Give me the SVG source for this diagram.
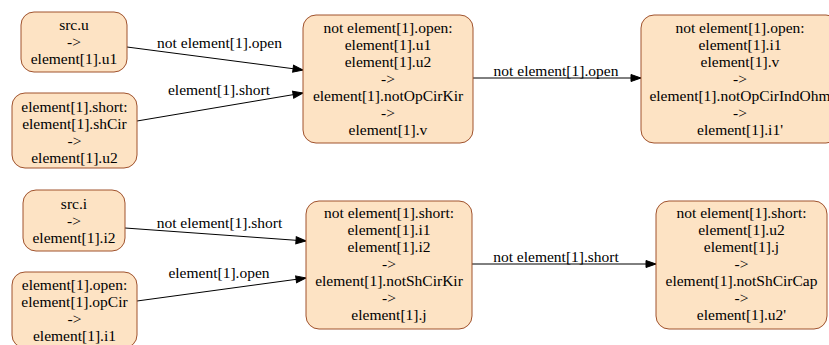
<svg xmlns="http://www.w3.org/2000/svg" width="829" height="345" viewBox="0 0 829 345">
<style>
.n rect{fill:#fde3c4;stroke:#a0522d;stroke-width:1}
text{font-family:"Liberation Serif","Times New Roman",serif;font-size:15.5px;fill:#000;text-anchor:middle}
.e path{fill:none;stroke:#000;stroke-width:1}
</style>
<defs>
<marker id="ah" markerUnits="userSpaceOnUse" markerWidth="11" markerHeight="8" refX="10" refY="3.5" orient="auto" overflow="visible">
<path d="M0,0 L10,3.5 L0,7 Z" fill="#000" stroke="#000"/>
</marker>
</defs>
<rect width="829" height="345" fill="#fff"/>
<g id="connectors" class="e">
<path d="M127,47 L303,70" marker-end="url(#ah)"/>
<text x="219.5" y="48">not element[1].open</text>
<path d="M137,121 L303,93" marker-end="url(#ah)"/>
<text x="219" y="94.5">element[1].short</text>
<path d="M473,78 L641,78" marker-end="url(#ah)"/>
<text x="556" y="75.5">not element[1].open</text>
<path d="M125,228 L306,241" marker-end="url(#ah)"/>
<text x="219.5" y="228">not element[1].short</text>
<path d="M137,301 L306,278" marker-end="url(#ah)"/>
<text x="219" y="278">element[1].open</text>
<path d="M472,264 L656,264" marker-end="url(#ah)"/>
<text x="556" y="261.5">not element[1].short</text>
</g>
<g id="nA" class="n">
<rect x="21" y="12" width="106" height="60" rx="13"/>
<text x="74" y="30">src.u</text>
<text x="74" y="47">-&gt;</text>
<text x="74" y="64">element[1].u1</text>
</g>
<g id="nB" class="n">
<rect x="12" y="93" width="125" height="75" rx="13"/>
<text x="74.5" y="112">element[1].short:</text>
<text x="74.5" y="129">element[1].shCir</text>
<text x="74.5" y="146">-&gt;</text>
<text x="74.5" y="163">element[1].u2</text>
</g>
<g id="nC" class="n">
<rect x="303" y="15" width="170" height="128" rx="13"/>
<text x="388" y="32.5">not element[1].open:</text>
<text x="388" y="49.5">element[1].u1</text>
<text x="388" y="66.5">element[1].u2</text>
<text x="388" y="83.5">-&gt;</text>
<text x="388" y="100.5">element[1].notOpCirKir</text>
<text x="388" y="117.5">-&gt;</text>
<text x="388" y="134.5">element[1].v</text>
</g>
<g id="nD" class="n">
<rect x="641" y="15" width="198" height="128" rx="13"/>
<text x="740" y="32.5">not element[1].open:</text>
<text x="740" y="49.5">element[1].i1</text>
<text x="740" y="66.5">element[1].v</text>
<text x="740" y="83.5">-&gt;</text>
<text x="740" y="100.5">element[1].notOpCirIndOhm</text>
<text x="740" y="117.5">-&gt;</text>
<text x="740" y="134.5">element[1].i1'</text>
</g>
<g id="nE" class="n">
<rect x="23" y="190" width="102" height="61" rx="13"/>
<text x="74" y="209">src.i</text>
<text x="74" y="226">-&gt;</text>
<text x="74" y="243">element[1].i2</text>
</g>
<g id="nF" class="n">
<rect x="12" y="272" width="125" height="76" rx="13"/>
<text x="74.5" y="290">element[1].open:</text>
<text x="74.5" y="307">element[1].opCir</text>
<text x="74.5" y="324">-&gt;</text>
<text x="74.5" y="341">element[1].i1</text>
</g>
<g id="nG" class="n">
<rect x="306" y="201" width="166" height="128" rx="13"/>
<text x="389" y="218">not element[1].short:</text>
<text x="389" y="235">element[1].i1</text>
<text x="389" y="252">element[1].i2</text>
<text x="389" y="269">-&gt;</text>
<text x="389" y="286">element[1].notShCirKir</text>
<text x="389" y="303">-&gt;</text>
<text x="389" y="320">element[1].j</text>
</g>
<g id="nH" class="n">
<rect x="656" y="201" width="171" height="128" rx="13"/>
<text x="741.5" y="218">not element[1].short:</text>
<text x="741.5" y="235">element[1].u2</text>
<text x="741.5" y="252">element[1].j</text>
<text x="741.5" y="269">-&gt;</text>
<text x="741.5" y="286">element[1].notShCirCap</text>
<text x="741.5" y="303">-&gt;</text>
<text x="741.5" y="320">element[1].u2'</text>
</g>
</svg>
